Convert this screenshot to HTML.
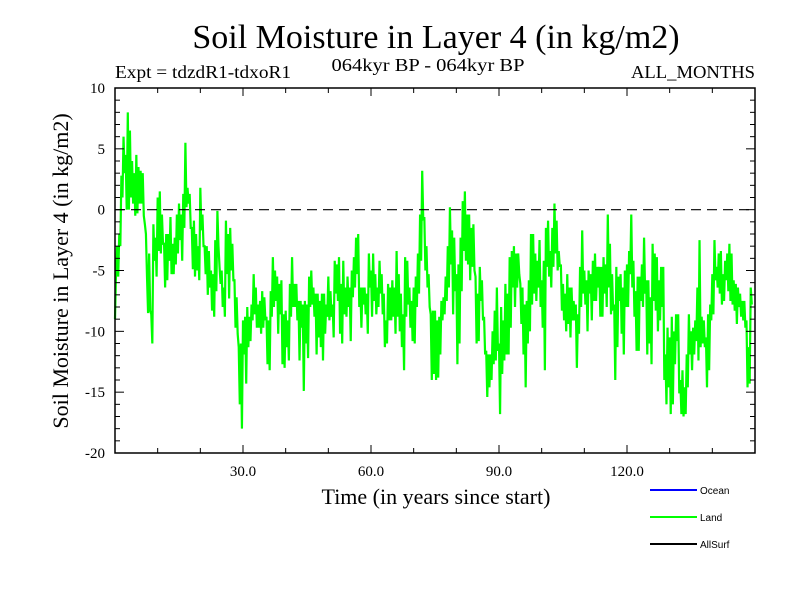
<!DOCTYPE html>
<html><head><meta charset="utf-8"><style>
body{margin:0;background:#fff}
svg{display:block}
text{font-family:"Liberation Serif",serif;fill:#000}
</style></head><body>
<svg id="chart" width="800" height="600" viewBox="0 0 800 600" xmlns="http://www.w3.org/2000/svg">
<rect width="800" height="600" fill="#fff"/>
<text x="436" y="48" font-size="34" text-anchor="middle">Soil Moisture in Layer 4 (in kg/m2)</text>
<text x="115" y="78" font-size="18" textLength="176" lengthAdjust="spacingAndGlyphs">Expt = tdzdR1-tdxoR1</text>
<text x="428" y="71" font-size="18" text-anchor="middle" textLength="193" lengthAdjust="spacingAndGlyphs">064kyr BP - 064kyr BP</text>
<text x="755" y="78" font-size="18" text-anchor="end" textLength="124" lengthAdjust="spacingAndGlyphs">ALL_MONTHS</text>
<text transform="translate(68,271) rotate(-90)" font-size="22" text-anchor="middle">Soil Moisture in Layer 4 (in kg/m2)</text>
<text x="436" y="504" font-size="22" text-anchor="middle">Time (in years since start)</text>
<g id="plot"></g>
<g>
 <line x1="650" y1="490" x2="697" y2="490" stroke="#0000ff" stroke-width="2"/>
 <text x="700" y="494" font-size="10" style="font-family:'Liberation Sans',sans-serif">Ocean</text>
 <line x1="650" y1="517" x2="697" y2="517" stroke="#00ff00" stroke-width="2"/>
 <text x="700" y="521" font-size="10" style="font-family:'Liberation Sans',sans-serif">Land</text>
 <line x1="650" y1="544" x2="697" y2="544" stroke="#000" stroke-width="2"/>
 <text x="700" y="548" font-size="10" style="font-family:'Liberation Sans',sans-serif">AllSurf</text>
</g>
</svg>
<script>
const xTickLabels = [30, 60, 90, 120];
const yTickLabels = [10, 5, 0, -5, -10, -15, -20];
const timeStep = 0.25;
const landValues = [
-9,-5,-3,-5.5,-2,-3,2.8,1,6,3,4.5,0,8,0,6.5,1,4,0.5,3,-0.5,4.5,-0.3,3.5,0.5,3.2,0.5,3,-0.5,-1.2,-2,-5.5,-8.5,
-3.6,-8.3,-8.6,-11,-1.2,-4.2,-2.3,-5.5,1,-3.4,1.5,-3.6,-0.4,-2.8,-2.8,-6.4,-2,-5.8,-2,-4.2,-0.6,-5.3,-2.8,-5.3,-2.3,-4.5,-0.4,-3.6,
0.5,-2.5,-0.4,-4.2,1.3,-1.5,5.5,0.2,1.8,0.5,1.3,-1.5,-1.5,-4.9,-0.9,-5.5,-2,-5,-3,-5.8,1.8,-1.7,-0.4,-3,-3,-5.3,-3,-7,-3.4,-6.4,
-5,-8.3,-5.3,-8.8,-2.5,-6.7,-0.1,-3,-4.7,-6.1,-5,-8,-6.4,-8.8,-0.9,-5.3,-2,-7.3,-1.5,-5,-2.8,-5.8,-5.8,-9.7,-7.2,-10.2,-11.3,-16,
-11,-18,-9.1,-11.9,-8.8,-14.3,-8,-11.3,-8.8,-10.8,-7.8,-9.1,-5.3,-8.6,-6.4,-9.7,-7.8,-9.7,-7.5,-10.2,-6.7,-9.7,-7.2,-9.1,-8.8,-12.7,
-9.1,-13.2,-6.7,-8.8,-3.9,-8,-5,-7.5,-5.5,-10.2,-6.1,-8.6,-5.8,-12.7,-8.6,-13,-8.3,-11.3,-9.1,-12.4,-6.1,-8.8,-3.9,-8,-6.1,-8,
-6.1,-9.1,-7.5,-12.4,-7.5,-9.7,-7.8,-14.9,-7.5,-11,-7.8,-12.2,-5.5,-8,-5,-7.8,-6.4,-8.8,-6.9,-11.9,-6.9,-10.5,-7.5,-11.3,-6.9,-12.4,
-6.9,-10.2,-7.8,-8.8,-5.5,-9.1,-6.7,-8.8,-7.8,-10.5,-4.2,-6.9,-4.5,-7.5,-3.9,-10.2,-6.1,-11,-4.2,-8.6,-6.4,-8.8,-5.5,-8,-6.4,-10.8,
-5,-7.2,-3.9,-6.4,-2.3,-5.3,-2,-8,-6.4,-9.7,-6.4,-7.8,-6.4,-8.6,-6.9,-10.2,-3.6,-6.4,-5,-8.8,-3.6,-7.5,-5.3,-8.6,-6.4,-8,
-4.2,-6.9,-5.3,-8.6,-6.9,-11.3,-9.1,-11,-6.1,-9.1,-6.4,-9.1,-5.8,-8.8,-6.4,-10.2,-3.4,-8.8,-5.3,-10,-6.9,-11.3,-8.6,-13.2,-3.9,-8.8,
-4.2,-7.8,-6.4,-9.7,-7.5,-10.8,-6.4,-11,-5.5,-8,-3.6,-6.9,-0.4,-4.2,3.2,-0.9,-0.6,-5,-3,-6.4,-5.3,-8,-8.6,-14,-8.3,-13.5,
-8.3,-14,-9.1,-13.8,-8.8,-11.9,-7.5,-9.1,-7.2,-8.6,-5.5,-7.5,-3,-6.4,0.2,-4.5,-1.7,-8.6,-2.3,-6.7,-5.3,-12.7,-4.5,-11,-2.3,-6.7,
0.7,-3.4,1.5,-4.2,-0.4,-4.5,-0.4,-5.8,-1.5,-4.7,-1.2,-5,-5.5,-11,-6.9,-10.8,-4.7,-7.5,-5.8,-9.1,-8.8,-11.9,-11.6,-15.4,-11.9,-14.6,
-11.9,-14,-10,-12.7,-8.3,-12.4,-6.4,-11.6,-11,-16.8,-8,-13.5,-9.1,-12.4,-6.1,-11.9,-6.9,-11.9,-3.9,-9.7,-3.4,-6.4,-3,-8,-3.6,-6.4,
-3.6,-5.3,-6.1,-9.4,-6.4,-11.9,-7.8,-14.6,-7.5,-11,-5.8,-10,-2,-7.8,-2,-6.9,-3.6,-7.5,-4.2,-6.4,-2.5,-8,-5.8,-9.7,-4.2,-13.2,
-1.5,-4.7,-0.9,-5.5,-3.4,-6.4,-1.5,-4.7,0.5,-3.6,-0.9,-5,-3.4,-4.7,-4.5,-8.3,-6.1,-9.1,-6.9,-10,-5.3,-9.4,-6.4,-10.5,-6.4,-9.1,
-7.5,-9.1,-7.8,-13,-8.6,-10.2,-4.7,-8,-1.7,-6.9,-5,-7.8,-5.8,-10,-5,-6.9,-5.3,-9.1,-4.2,-7.5,-3.6,-7.5,-4.7,-6.4,-4.7,-8.8,
-4.7,-8.8,-3.9,-6.9,-4.5,-8,-0.4,-6.4,-2.8,-8.6,-5.3,-8.3,-7.8,-14,-4.7,-11.3,-5.5,-7.5,-5.3,-10.2,-6.4,-11.9,-5,-8,-4.5,-8,
-3.4,-5.3,-0.4,-6.4,-4.2,-8.8,-6.7,-11.6,-5.5,-11.6,-5.5,-7.5,-4.5,-8,-2.3,-6.9,-5.8,-11.9,-5.8,-11,-7.2,-12.7,-2.8,-7.5,-3.6,-8.3,
-3.9,-10,-5.8,-9.1,-4.7,-8,-4.7,-14,-11.9,-16,-9.7,-14.6,-10.5,-16.8,-8.8,-16,-10,-12.7,-8.6,-10.8,-8.6,-15.1,-14,-16.8,-13.2,-17,
-14.6,-16.8,-11.9,-14.6,-8.6,-11.9,-10,-13.2,-9.7,-11.9,-9.1,-10.8,-6.4,-12.4,-2.5,-11.3,-8.8,-11,-9.1,-11.3,-10.5,-14.6,-8.6,-13.2,
-7.8,-9.1,-5.3,-8.6,-2.5,-5.8,-4.7,-6.4,-3.6,-6.9,-3.4,-7.8,-5.3,-7.5,-4.2,-5.8,-3.6,-6.7,-2.8,-7.5,-3.6,-7.8,-5.8,-8.3,-6.1,-9.4,
-6.4,-8,-6.9,-8.8,-7.5,-9.1,-7.5,-9.7,-9.1,-14.6,-11.3,-14.3,-6.4,-7.8
];
const NS='http://www.w3.org/2000/svg';
const L=115,R=755,T=88,B=453,xMin=0,xMax=150,yMin=-20,yMax=10;
function sx(v){return L+(v-xMin)/(xMax-xMin)*(R-L);}
function sy(v){return B-(v-yMin)/(yMax-yMin)*(B-T);}
const g=document.getElementById('plot');
function mk(tag,attrs){const e=document.createElementNS(NS,tag);for(const k in attrs)e.setAttribute(k,attrs[k]);g.appendChild(e);return e;}
let d='';
landValues.forEach((v,i)=>{d+=(i?'L':'M')+sx(i*timeStep).toFixed(2)+','+sy(v).toFixed(2);});
const line=mk('path',{d:d,fill:'none',stroke:'#00ff00','stroke-width':2.2,'stroke-linejoin':'miter'});


const z=mk('line',{x1:L,x2:R,y1:sy(0),y2:sy(0),stroke:'#000','stroke-width':1.2,'stroke-dasharray':'10,6'});


const f=mk('rect',{x:L,y:T,width:R-L,height:B-T,fill:'none',stroke:'#000','stroke-width':1.5});


for(let t=10;t<150;t+=10){const major=t%30===0;const len=major?8:5;
 const a=mk('line',{x1:sx(t),x2:sx(t),y1:B,y2:B-len,stroke:'#000','stroke-width':1});
 
 
 const b=mk('line',{x1:sx(t),x2:sx(t),y1:T,y2:T+len,stroke:'#000','stroke-width':1});
 
 }
xTickLabels.forEach(t=>{const e=mk('text',{x:sx(t),y:476,'font-size':15,'text-anchor':'middle'});e.textContent=t.toFixed(1);
 
 });
for(let v=-19;v<10;v++){const major=v%5===0;const len=major?9:5;
 const a=mk('line',{x1:L,x2:L+len,y1:sy(v),y2:sy(v),stroke:'#000','stroke-width':1});
 
 
 const b=mk('line',{x1:R,x2:R-len,y1:sy(v),y2:sy(v),stroke:'#000','stroke-width':1});
 
 }
yTickLabels.forEach(v=>{const e=mk('text',{x:105,y:sy(v)+5,'font-size':15,'text-anchor':'end'});e.textContent=v;
 
 });
</script>
</body></html>
